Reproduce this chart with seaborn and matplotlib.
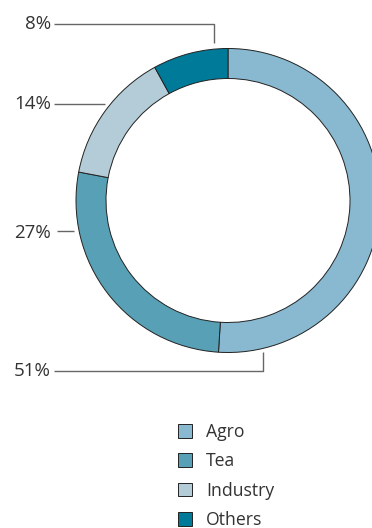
import matplotlib
matplotlib.use("Agg")
import matplotlib.pyplot as plt
import seaborn as sns

categories = ["Agro", "Tea", "Industry", "Others"]
shares = [51, 27, 14, 8]
pct_labels = ["51%", "27%", "14%", "8%"]
colors = ["#88b9d0", "#58a0b5", "#b3ccd7", "#007a99"]

sns.set_theme(style="white")
plt.rcParams["font.family"] = ["Open Sans", "DejaVu Sans"]

W, H = 372, 528
fig = plt.figure(figsize=(W / 100, H / 100), dpi=100)
ax = fig.add_axes([0, 0, 1, 1])

cx, cy, R = 228, H - 200.5, 152
wedges, _ = ax.pie(shares, colors=colors, startangle=90, counterclock=False,
                   radius=R, center=(cx, cy),
                   wedgeprops=dict(width=30, edgecolor="#222222", linewidth=0.7))
ax.set_xlim(0, W)
ax.set_ylim(0, H)
ax.set_aspect("equal")
ax.axis("off")

txt = "#333333"
lc = "#666666"
# label positions (pixel coords in image space)
label_pos = {
    "51%": (51, 371, [(54, 371), (263, 371), (263, 352)]),
    "27%": (51, 233, [(57, 231), (74, 231)]),
    "14%": (51, 104, [(54, 104), (105, 104)]),
    "8%": (51, 24, [(54, 24), (214, 24), (214, 43)]),
}
for lab in pct_labels:
    tx, ty, pts = label_pos[lab]
    ax.text(tx, H - ty, lab, ha="right", va="center", fontsize=13.5, color=txt)
    xs = [p[0] for p in pts]
    ys = [H - p[1] for p in pts]
    ax.plot(xs, ys, color=lc, lw=1.0, solid_capstyle="butt")

leg = ax.legend(wedges, categories, loc="upper left",
                bbox_to_anchor=(171 / W, 1 - 416 / H), frameon=False,
                fontsize=12.7, handlelength=0.8, handleheight=0.8,
                handletextpad=0.8, labelspacing=0.64, labelcolor=txt,
                borderaxespad=0)

fig.savefig("out.png", dpi=100)
